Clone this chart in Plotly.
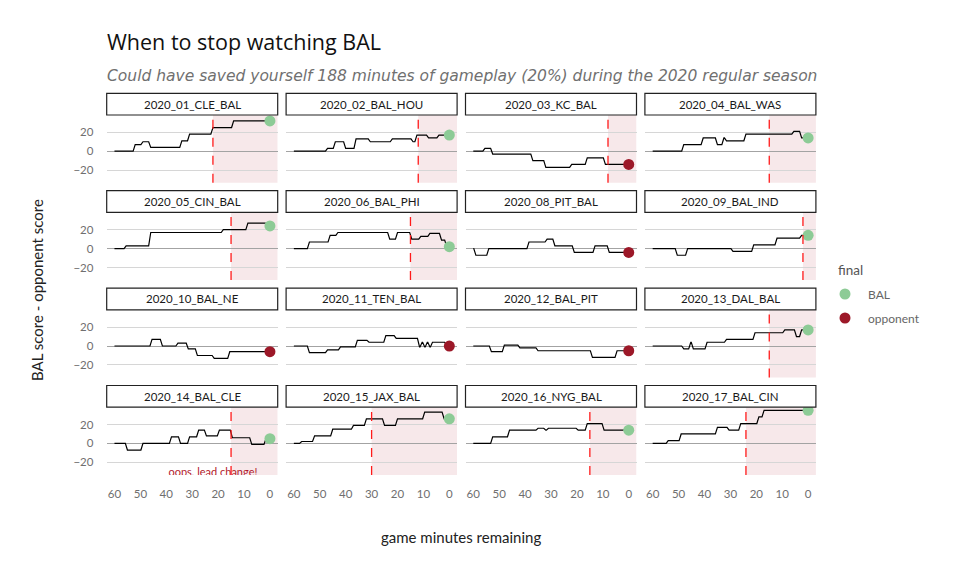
import plotly.graph_objects as go

# ---------------- data ----------------
games = ["2020_01_CLE_BAL", "2020_02_BAL_HOU", "2020_03_KC_BAL", "2020_04_BAL_WAS",
         "2020_05_CIN_BAL", "2020_06_BAL_PHI", "2020_08_PIT_BAL", "2020_09_BAL_IND",
         "2020_10_BAL_NE", "2020_11_TEN_BAL", "2020_12_BAL_PIT", "2020_13_DAL_BAL",
         "2020_14_BAL_CLE", "2020_15_JAX_BAL", "2020_16_NYG_BAL", "2020_17_BAL_CIN"]

# score-change events: minutes remaining when the new differential (BAL - opponent) is reached
t_01 = [52, 49, 46, 34, 31, 22, 14]
d_01 = [7, 10, 4, 11, 18, 25, 32]
t_02 = [47, 44, 40, 36, 30.5, 22, 14, 12.5, 8, 4]
d_02 = [3, 10, 3, 13, 10, 13, 10, 17, 14, 17]
t_03 = [55.5, 52.5, 37, 32, 22, 16, 9]
d_03 = [3, -3, -10, -17, -14, -7, -14]
t_04 = [48, 40.5, 35, 32.5, 31.5, 24, 5.5, 2.5]
d_04 = [7, 14, 7, 14, 11, 18, 21, 14]
t_05 = [55.5, 46, 18, 8.5, 1]
d_05 = [3, 17, 20, 27, 24]
t_06 = [54, 46, 43, 23, 20, 14.5, 11, 7.5, 3, 1]
d_06 = [7, 14, 17, 10, 17, 10, 13, 16, 9, 2]
t_08 = [59, 54, 38.5, 31.5, 28.5, 21, 13, 7.5]
d_08 = [-7, 0, 7, 10, 3, -4, 3, -4]
t_09 = [50.5, 46.5, 29, 21, 12, 2.5]
d_09 = [-7, 0, -3, 4, 11, 14]
t_10 = [45.5, 41.5, 35.5, 31.5, 28, 21.5, 15.5]
d_10 = [7, 0, 3, -3, -10, -13, -6]
t_11 = [54, 47, 42, 35.5, 31, 24.5, 20.5, 11.5, 10.5, 9.5, 8.5, 7.5, 6.5, 1]
d_11 = [-7, -4, -1, 6, 4, 11, 8, -1, 4, -1, 4, -1, 4, 0]
t_12 = [53, 48, 42, 35, 14, 4.5]
d_12 = [-6, 1, -2, -5, -12, -5]
t_13 = [48, 45.3, 44.3, 39, 31.5, 20.5, 9, 4.5, 2.5]
d_13 = [-3, 4, -3, 4, 7, 14, 17, 10, 17]
t_14 = [55, 49, 38, 34.5, 31, 27.5, 24.5, 19.5, 14.5, 7, 1.5]
d_14 = [-7, 0, 7, 0, 7, 14, 8, 14, 6, -1, 5]
t_15 = [57, 52, 45, 37, 32, 25, 20, 9.5, 2]
d_15 = [2, 8, 15, 19, 26, 19, 26, 33, 26]
t_16 = [52.5, 46, 35, 32, 31, 19.5, 16, 9.5]
d_16 = [7, 14, 16, 14, 16, 14, 21, 14]
t_17 = [54, 49, 35, 30.5, 26, 19, 17]
d_17 = [3, 10, 17, 14, 21, 28, 35]

event_times = [t_01, t_02, t_03, t_04, t_05, t_06, t_08, t_09,
               t_10, t_11, t_12, t_13, t_14, t_15, t_16, t_17]
event_diffs = [d_01, d_02, d_03, d_04, d_05, d_06, d_08, d_09,
               d_10, d_11, d_12, d_13, d_14, d_15, d_16, d_17]

# minute mark where you could stop watching (None = watch it all)
stop_minutes = [22, 12, 8, 15, 15, 15, None, 2, None, None, None, 15, 15, 30, 15, 24]
winners = ["BAL", "BAL", "opponent", "BAL", "BAL", "BAL", "opponent", "BAL",
           "opponent", "opponent", "opponent", "BAL", "BAL", "BAL", "BAL", "BAL"]
legend_labels = ["BAL", "opponent"]

x_ticks = [60, 50, 40, 30, 20, 10, 0]
y_ticks = [-20, 0, 20]
note_game = "2020_14_BAL_CLE"
note_text = "oops, lead change!"
note_x, note_y = 22, -32

# ---------------- styling ----------------
FONT = "Lato"
TFONT = "Open Sans"
SFONT = "DejaVu Sans"
W, H = 960, 576
col_x0 = [106.7 + c * 179.4 for c in range(4)]
panel_w = 171
row_top = [115 + r * 97.4 for r in range(4)]
panel_h = 67.7
strip_h = 21.7
TRANS = 0.8  # duration of a score transition in minutes (drawing)
colors = {"BAL": "#8dcb96", "opponent": "#9c1828"}

fig = go.Figure()
shapes, annotations = [], []

for i, g in enumerate(games):
    r, c = divmod(i, 4)
    n = "" if i == 0 else str(i + 1)
    xa, ya = "x" + n, "y" + n
    x0 = col_x0[c]
    top = row_top[r]

    s = stop_minutes[i]
    if s is not None:
        shapes.append(dict(type="rect", xref=xa, yref=ya + " domain", x0=s, x1=-3, y0=0, y1=1,
                           fillcolor="rgba(178,34,52,0.1)", line=dict(width=0), layer="below"))
        shapes.append(dict(type="line", xref=xa, yref=ya + " domain", x0=s, x1=s, y0=0, y1=1,
                           line=dict(color="#ff1a1a", width=1.3, dash="dash"), layer="above"))

    # step path from score events
    xs, ys = [60], [0]
    prev = 0
    for t, d in zip(event_times[i], event_diffs[i]):
        xs += [t + TRANS, t]
        ys += [prev, d]
        prev = d
    xs.append(0)
    ys.append(prev)

    fig.add_trace(go.Scatter(x=xs, y=ys, mode="lines", line=dict(color="black", width=1.2),
                             xaxis=xa, yaxis=ya, showlegend=False, hoverinfo="skip"))
    w = winners[i]
    fig.add_trace(go.Scatter(x=[0], y=[prev], mode="markers",
                             marker=dict(color=colors[w], size=11),
                             name=w, showlegend=False, xaxis=xa, yaxis=ya, cliponaxis=False))

    if g == note_game:
        fig.add_trace(go.Scatter(x=[note_x], y=[note_y], mode="text", text=[note_text],
                                 textfont=dict(family=FONT, size=11, color="#b2182b"),
                                 textposition="middle center", cliponaxis=True,
                                 showlegend=False, hoverinfo="skip", xaxis=xa, yaxis=ya))

    fig.layout["xaxis" + n] = dict(
        domain=[x0 / W, (x0 + panel_w) / W], range=[63, -3], anchor=ya,
        showgrid=False, zeroline=False, showline=False,
        tickvals=x_ticks, showticklabels=(r == 3),
        ticks="outside" if r == 3 else "", ticklen=8, tickcolor="rgba(0,0,0,0)",
        tickfont=dict(family=FONT, size=11.5, color="#6f6f6f"))
    fig.layout["yaxis" + n] = dict(
        domain=[1 - (top + panel_h) / H, 1 - top / H], range=[-33.25, 38.25], anchor=xa,
        tickvals=y_ticks, showgrid=True, gridcolor="#d6d6d6", gridwidth=1,
        zeroline=True, zerolinecolor="#a3a3a3", zerolinewidth=1.2, showline=False,
        showticklabels=(c == 0), ticks="outside" if c == 0 else "", ticklen=10,
        tickcolor="rgba(0,0,0,0)",
        tickfont=dict(family=FONT, size=11.5, color="#6f6f6f"))

    # strip
    shapes.append(dict(type="rect", xref="paper", yref="paper",
                       x0=x0 / W, x1=(x0 + panel_w) / W,
                       y0=1 - top / H, y1=1 - (top - strip_h) / H,
                       line=dict(color="#222", width=1.2), fillcolor="white"))
    annotations.append(dict(xref="paper", yref="paper", x=(x0 + panel_w / 2) / W,
                            y=1 - (top - strip_h / 2) / H, text=g, showarrow=False,
                            font=dict(family=FONT, size=11.5, color="#1a1a1a"),
                            xanchor="center", yanchor="middle"))

# legend (drawn manually)
annotations.append(dict(xref="paper", yref="paper", x=836 / W, y=1 - 270 / H, text="final",
                        showarrow=False, xanchor="left", yanchor="middle",
                        font=dict(family=FONT, size=13.5, color="#555")))
for k, lab in enumerate(legend_labels):
    cy = 294 + 24 * k
    shapes.append(dict(type="circle", xref="paper", yref="paper",
                       x0=(845 - 5.5) / W, x1=(845 + 5.5) / W,
                       y0=1 - (cy + 5.5) / H, y1=1 - (cy - 5.5) / H,
                       fillcolor=colors[lab], line=dict(width=0)))
    annotations.append(dict(xref="paper", yref="paper", x=866 / W, y=1 - cy / H, text=lab,
                            showarrow=False, xanchor="left", yanchor="middle",
                            font=dict(family=FONT, size=12, color="#666")))

annotations += [
    dict(xref="paper", yref="paper", x=105 / W, y=1 - 42 / H, text="When to stop watching BAL",
         showarrow=False, xanchor="left", yanchor="middle",
         font=dict(family=TFONT, size=21.5, color="#111")),
    dict(xref="paper", yref="paper", x=105 / W, y=1 - 76 / H,
         text="Could have saved yourself 188 minutes of gameplay (20%) during the 2020 regular season",
         showarrow=False, xanchor="left", yanchor="middle",
         font=dict(family=SFONT, size=15.5, color="#707070", style="italic")),
    dict(xref="paper", yref="paper", x=37 / W, y=1 - 290 / H, text="BAL score - opponent score",
         showarrow=False, textangle=-90, xanchor="center", yanchor="middle",
         font=dict(family=FONT, size=15, color="#222")),
    dict(xref="paper", yref="paper", x=461 / W, y=1 - 537 / H, text="game minutes remaining",
         showarrow=False, xanchor="center", yanchor="middle",
         font=dict(family=FONT, size=15, color="#222")),
]

fig.update_layout(
    width=W, height=H, margin=dict(l=0, r=0, t=0, b=0),
    paper_bgcolor="white", plot_bgcolor="white",
    shapes=shapes, annotations=annotations, showlegend=False,
    font=dict(family=FONT),
)

fig.write_html("out.html", config={"displayModeBar": False},
               post_script="document.body.style.margin='0';")
